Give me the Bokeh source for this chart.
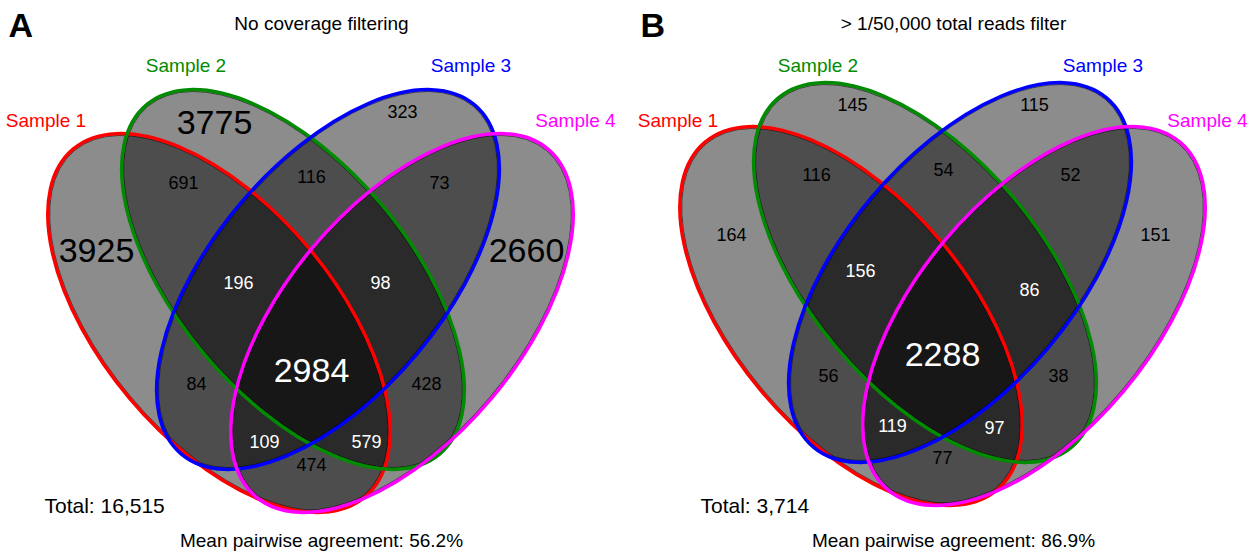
import numpy as np
from bokeh.plotting import figure
from bokeh.models import ColumnDataSource, Range1d
from bokeh.core.properties import value
from bokeh.embed import file_html
from bokeh.resources import INLINE

W, H = 1252, 554
FONT = "Liberation Sans"

# ---- data -----------------------------------------------------------------
sample_names = ["Sample 1", "Sample 2", "Sample 3", "Sample 4"]
sample_colors = ["#FF0000", "#008B00", "#0000FF", "#FF00FF"]

# region keys: which samples share the items
regions = ["1", "2", "3", "4", "12", "23", "34", "13", "24", "14",
           "123", "234", "134", "124", "1234"]
counts_a = [3925, 3775, 323, 2660, 691, 116, 73, 84, 428, 474,
            196, 98, 109, 579, 2984]
counts_b = [164, 145, 115, 151, 116, 54, 52, 56, 38, 77,
            156, 86, 119, 97, 2288]

panel_tags = ["A", "B"]
panel_titles = ["No coverage filtering", "> 1/50,000 total reads filter"]
mean_agreement = [56.2, 86.9]

# ---- layout (pixels, y measured downwards within a panel) -----------------
panel_dx = [0, 632]
panel_dy = [0, -7]

# ellipses: centre x, centre y, semi-major, semi-minor, tilt (deg, y up)
ell_cx = [218.5, 292.5, 327.5, 401.5]
ell_cy = [322.5, 279.0, 279.0, 322.5]
ell_a = [227.0, 228.0, 228.0, 227.0]
ell_b = [117.0, 116.0, 116.0, 117.0]
ell_ang = [-50.0, -50.0, 50.0, 50.0]

label_pos_a = [(96, 250), (214, 122), (402, 111), (526, 250), (183, 182),
               (311, 176), (439, 182), (196, 383), (426, 383), (311, 464),
               (238, 282), (380, 282), (264, 441), (366, 441), (311, 370)]
label_pos_b = [(99, 234), (220, 104), (402, 104), (523, 234), (184, 174),
               (311, 169), (438, 174), (196, 375), (426, 375), (310, 457),
               (228, 270), (397, 289), (260, 425), (362, 427), (310, 354)]

sample_label_x = [45.5, 185.5, 470.5, 575.0]
sample_label_y = [119.5, 64.5, 64.5, 119.5]
total_x = [44, 68]

p = figure(width=W, height=H, x_range=Range1d(0, W), y_range=Range1d(0, H),
           x_axis_type=None, y_axis_type=None, output_backend="svg",
           toolbar_location=None, min_border=0)
p.grid.visible = False
p.outline_line_color = None
p.background_fill_color = "white"


def up(yd):
    return H - yd


for k in range(2):
    dx, dy = panel_dx[k], panel_dy[k]
    counts = counts_a if k == 0 else counts_b
    lpos = label_pos_a if k == 0 else label_pos_b

    ex = [c + dx for c in ell_cx]
    ey = [up(c + dy) for c in ell_cy]
    ang = [np.deg2rad(a) for a in ell_ang]

    # translucent fills: overlaps darken
    p.ellipse(x=ex, y=ey, width=[2 * a for a in ell_a],
              height=[2 * b for b in ell_b], angle=ang,
              fill_color="black", fill_alpha=0.45, line_color=None)
    # thin dark rim just inside each outline
    p.ellipse(x=ex, y=ey, width=[2 * a - 4 for a in ell_a],
              height=[2 * b - 4 for b in ell_b], angle=ang,
              fill_color=None, line_color="black", line_alpha=0.55,
              line_width=1)
    # coloured outlines, drawn in sample order
    for i in range(4):
        p.ellipse(x=ex[i], y=ey[i], width=2 * ell_a[i], height=2 * ell_b[i],
                  angle=ang[i], fill_color=None, line_color=sample_colors[i],
                  line_width=3.5)

    # region counts
    src = ColumnDataSource(dict(
        x=[xx + dx for xx, _ in lpos],
        y=[up(yy) for _, yy in lpos],
        t=[str(c) for c in counts],
        size=["34px" if c >= 1000 else "18px" for c in counts],
        color=["white" if len(r) >= 3 else "black" for r in regions],
    ))
    p.text(x="x", y="y", text="t", source=src, text_font=value(FONT),
           text_font_size="size", text_color="color", text_align="center",
           text_baseline="middle")

    # sample names
    p.text(x=[sx + dx for sx in sample_label_x],
           y=[up(sy) for sy in sample_label_y], text=sample_names,
           text_color=sample_colors, text_font=value(FONT),
           text_font_size="19px", text_align="center",
           text_baseline="middle")

    # panel tag and title
    p.text(x=[8 + dx], y=[up(24.5)], text=[panel_tags[k]],
           text_font=value(FONT), text_font_size="34px",
           text_font_style="bold", text_color="black",
           text_baseline="middle")
    p.text(x=[321 + dx], y=[up(22.5)], text=[panel_titles[k]],
           text_font=value(FONT), text_font_size="19px", text_color="black",
           text_align="center", text_baseline="middle")

    # totals and agreement
    total = sum(counts)
    p.text(x=[total_x[k] + dx], y=[up(504.5)], text=[f"Total: {total:,}"],
           text_font=value(FONT), text_font_size="21px", text_color="black",
           text_baseline="middle")
    p.text(x=[321 + dx], y=[up(540)],
           text=[f"Mean pairwise agreement: {mean_agreement[k]}%"],
           text_font=value(FONT), text_font_size="19px", text_color="black",
           text_align="center", text_baseline="middle")

open("out.html", "w").write(file_html(p, INLINE))
